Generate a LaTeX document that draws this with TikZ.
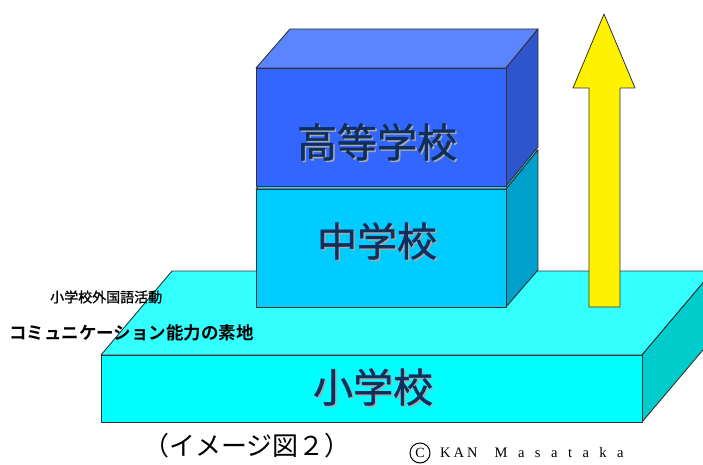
\documentclass[tikz,border=0pt]{standalone}
\usepackage{fontspec}
\newfontfamily\jp{Noto Sans CJK JP}
\newfontfamily\jpm{Noto Sans CJK JP}[FakeBold=1.0]
\newfontfamily\jpb{Noto Sans CJK JP}[BoldFont={* Bold}]
\newfontfamily\sr{Liberation Serif}
\definecolor{slabfront}{HTML}{00FFFF}
\definecolor{slabtop}{HTML}{33FFFF}
\definecolor{slabside}{HTML}{00CCCC}
\definecolor{msfront}{HTML}{00CCFF}
\definecolor{mstop}{HTML}{33CCFF}
\definecolor{msside}{HTML}{00A0CC}
\definecolor{hsfront}{HTML}{3366FF}
\definecolor{hstop}{HTML}{5B85FF}
\definecolor{hsside}{HTML}{2F55CC}
\definecolor{navy}{HTML}{0C2F5E}
\definecolor{shadowgray}{HTML}{A8A8A8}
\tikzset{
  face/.style={draw=black!80, line width=0.9pt, line join=round},
  bigtext/.style={font=\jpm\fontsize{40}{40}\selectfont, text=navy, inner sep=0pt},
  shadowtext/.style={font=\jpm\fontsize{40}{40}\selectfont, text=shadowgray, inner sep=0pt},
  label/.style={font=\jp, text=black, inner sep=0pt, anchor=west},
}
\begin{document}
\begin{tikzpicture}[x=1pt,y=-1pt]
\useasboundingbox (0,0) rectangle (703,465);
\begin{scope}
\clip (0,0) rectangle (703,465);
% slab
\draw[face, fill=slabtop] (101,355) -- (642,355) -- (713,271) -- (172,271) -- cycle;
\draw[face, fill=slabside] (642,355) -- (713,271) -- (713,338) -- (642,422) -- cycle;
\draw[face, fill=slabfront] (101,355) rectangle (642,422);
\end{scope}
% arrow
\draw[face, line width=0.8pt, fill=yellow] (589,307) -- (589,88) -- (573,88) -- (604,14) -- (635,88) -- (620,88) -- (620,307) -- cycle;
% middle school box
\draw[face, fill=mstop] (256,189) -- (506,189) -- (538,150) -- (288,150) -- cycle;
\draw[face, fill=msside] (506,189) -- (538,150) -- (538,270) -- (506,307) -- cycle;
\draw[face, fill=msfront] (256,189) rectangle (506,307);
% high school box
\draw[face, fill=hstop] (256,68) -- (506,68) -- (538,29) -- (290,29) -- cycle;
\draw[face, fill=hsside] (506,68) -- (538,29) -- (538,147) -- (506,186) -- cycle;
\draw[face, fill=hsfront] (256,68) rectangle (506,186);
% texts
\node[shadowtext] at (378.5,143.5) {高等学校};
\node[bigtext] (hs) at (377,142) {高等学校};
\node[shadowtext] at (378.5,242.5) {中学校};
\node[bigtext] (ms) at (377,241) {中学校};
\node[shadowtext] at (374.5,388.5) {小学校};
\node[bigtext] (es) at (373,387) {小学校};
\node[label, font=\jpm\fontsize{14}{14}\selectfont] (l1) at (50,297) {小学校外国語活動};
\node[label, font=\jpb\bfseries\fontsize{17.5}{17.5}\selectfont] (l2) at (9,333) {コミュニケーション能力の素地};
\node[font=\jp\fontsize{26}{26}\selectfont, inner sep=0pt] (cap) at (247,446) {（イメージ図２）};
\node[draw=black, line width=1pt, circle, minimum size=20pt, inner sep=0pt, font=\sr\fontsize{14}{14}\selectfont] (cc) at (420,453) {C};
\node[font=\sr\fontsize{14.5}{14.5}\selectfont, inner sep=0pt, anchor=west] (copy) at (440,453) {K\hspace{3pt}A\hspace{3pt}N\hspace{17pt}M\hspace{10.5pt}a\hspace{10.5pt}s\hspace{10.5pt}a\hspace{10.5pt}t\hspace{10.5pt}a\hspace{10.5pt}k\hspace{10.5pt}a};
\end{tikzpicture}
\end{document}
